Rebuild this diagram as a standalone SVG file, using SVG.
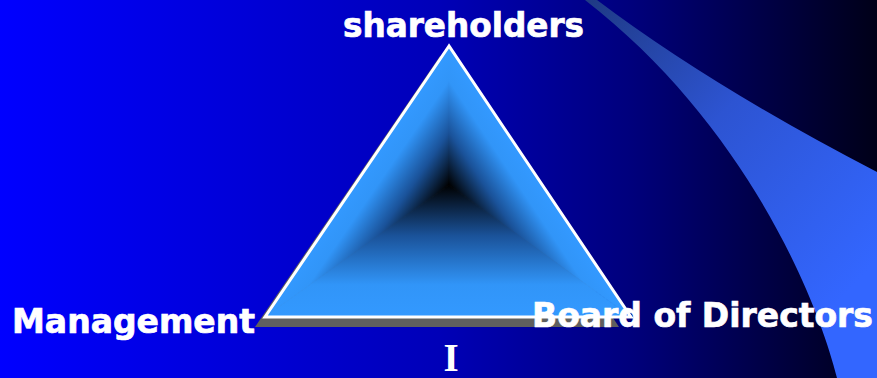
<svg xmlns="http://www.w3.org/2000/svg" width="877" height="378" viewBox="0 0 877 378">
<defs>
<style>
.lbl{font-family:"DejaVu Sans","Verdana",sans-serif;font-weight:bold;font-size:33px;fill:#ffffff;stroke:#ffffff;stroke-width:0.7}
.ser{font-family:"Liberation Serif","Times New Roman",serif;font-weight:bold;font-size:39px;fill:#ffffff}
</style>
<linearGradient id="bg" x1="0" y1="0" x2="877" y2="0" gradientUnits="userSpaceOnUse">
<stop offset="0" stop-color="#0000ff"/>
<stop offset="0.5" stop-color="#0000b8"/>
<stop offset="0.72" stop-color="#00007c"/>
<stop offset="1" stop-color="#000018"/>
</linearGradient>
<linearGradient id="sw" x1="590" y1="0" x2="877" y2="260" gradientUnits="userSpaceOnUse">
<stop offset="0" stop-color="#1f3a85"/>
<stop offset="0.45" stop-color="#2d54d2"/>
<stop offset="1" stop-color="#3366ff"/>
</linearGradient>
<linearGradient id="gL" x1="384.1" y1="140.4" x2="449" y2="185" gradientUnits="userSpaceOnUse">
<stop offset="0" stop-color="#3399ff"/>
<stop offset="0.25" stop-color="#3195f8"/>
<stop offset="0.62" stop-color="#1a5299"/>
<stop offset="1" stop-color="#000000"/>
</linearGradient>
<linearGradient id="gR" x1="513.1" y1="142.3" x2="449" y2="185" gradientUnits="userSpaceOnUse">
<stop offset="0" stop-color="#3399ff"/>
<stop offset="0.25" stop-color="#3195f8"/>
<stop offset="0.62" stop-color="#1a5299"/>
<stop offset="1" stop-color="#000000"/>
</linearGradient>
<linearGradient id="gB" x1="449" y1="318" x2="449" y2="185" gradientUnits="userSpaceOnUse">
<stop offset="0" stop-color="#3399ff"/>
<stop offset="0.25" stop-color="#3195f8"/>
<stop offset="0.62" stop-color="#1a5299"/>
<stop offset="1" stop-color="#000000"/>
</linearGradient>
</defs>
<rect x="0" y="0" width="877" height="378" fill="url(#bg)"/>
<path d="M585,0 L597,0 Q711,86 877,172 L877,378 L837,378 C815,290 740,120 585,0 Z" fill="url(#sw)"/>
<g id="connectors">
<g id="triangle">
<polygon points="440,56 255,327 619,327" fill="#5f5f5f"/>
<polygon points="449,46 265,317 449,185" fill="url(#gL)" stroke="url(#gL)" stroke-width="0.8"/>
<polygon points="449,46 631,317 449,185" fill="url(#gR)" stroke="url(#gR)" stroke-width="0.8"/>
<polygon points="265,317 631,317 449,185" fill="url(#gB)" stroke="url(#gB)" stroke-width="0.8"/>
<polygon points="449,46 265,317 631,317" fill="none" stroke="#ffffff" stroke-width="3" stroke-linejoin="miter"/>
</g>
</g>
<g id="node-shareholders">
<text class="lbl" x="343" y="37" textLength="241" lengthAdjust="spacingAndGlyphs">shareholders</text>
</g>
<g id="node-management">
<text class="lbl" x="12" y="333" textLength="243" lengthAdjust="spacingAndGlyphs">Management</text>
</g>
<g id="node-board">
<text class="lbl" x="532" y="327" textLength="341" lengthAdjust="spacingAndGlyphs">Board of Directors</text>
</g>
<g id="label-i">
<text class="ser" x="451" y="371" text-anchor="middle">I</text>
</g>
</svg>
